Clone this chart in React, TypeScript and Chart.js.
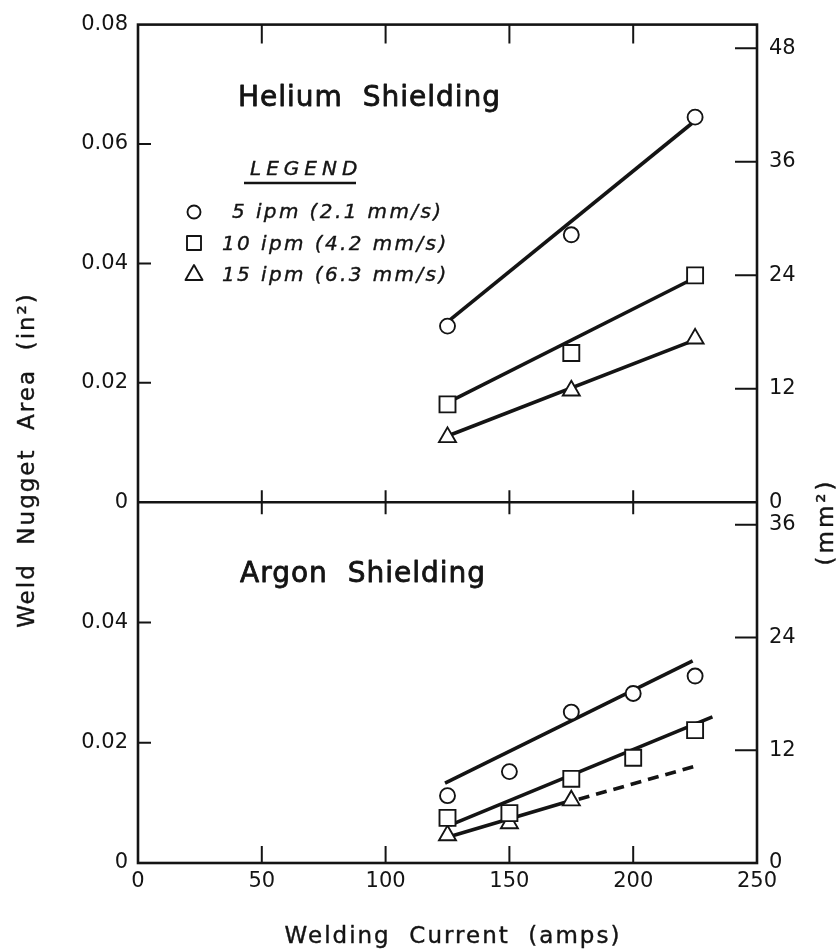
import React, { useEffect, useRef } from 'react';
import { Chart, registerables } from 'chart.js';

Chart.register(...registerables);

// ---- Data ----
// Helium shielding
const heCurrent = [125, 175, 225];
const he5ipm = [0.0295, 0.0448, 0.0645];
const he10ipm = [0.0164, 0.025, 0.038];
const he15ipm = [0.0109, 0.0187, 0.0274];

// Argon shielding
const arCurrent = [125, 150, 175, 200, 225];
const ar5ipm = [0.0112, 0.0152, 0.0251, 0.0282, 0.0311];
const ar10ipm = [0.0075, 0.0083, 0.014, 0.0175, 0.0221];
const ar15Current = [125, 150, 175];
const ar15ipm = [0.0046, 0.0066, 0.0104];

// Fitted lines (end points)
const heFit5X = [125, 225];
const heFit5Y = [0.0302, 0.0639];
const heFit10X = [125, 225];
const heFit10Y = [0.0167, 0.0376];
const heFit15X = [125, 225];
const heFit15Y = [0.0111, 0.0272];
const arFit5X = [124, 224];
const arFit5Y = [0.0133, 0.0336];
const arFit10X = [126, 232];
const arFit10Y = [0.0063, 0.0243];
const arFit15X = [126, 175];
const arFit15Y = [0.0044, 0.0104];
const arFit15DashX = [178, 225];
const arFit15DashY = [0.0106, 0.0161];

// Axes
const xTicks = [0, 50, 100, 150, 200, 250];
const heLeftTicks = [0, 0.02, 0.04, 0.06, 0.08];
const arLeftTicks = [0, 0.02, 0.04, 0.06];
const heRightTicks = [0, 12, 24, 36, 48];
const arRightTicks = [0, 12, 24, 36];

const legendTitle = 'LEGEND';
const legendLabels = ['5 ipm (2.1 mm/s)', '10 ipm (4.2 mm/s)', '15 ipm (6.3 mm/s)'];
const heTitle = 'Helium  Shielding';
const arTitle = 'Argon  Shielding';
const xTitle = 'Welding  Current  (amps)';
const yLeftTitle = 'Weld  Nugget  Area  (in²)';
const yRightTitle = '(mm²)';

const INK = '#141414';
const FONT = "'DejaVu Sans', sans-serif";

const pts = (xs: number[], ys: number[]) => xs.map((x, i) => ({ x, y: ys[i] }));

const marker = (label: string, xs: number[], ys: number[], yAxisID: string, style: string, r: number) => ({
  label,
  data: pts(xs, ys),
  xAxisID: 'x',
  yAxisID,
  showLine: false,
  pointStyle: style,
  pointRadius: r,
  pointBackgroundColor: '#ffffff',
  pointBorderColor: INK,
  pointBorderWidth: 1.9,
  order: 0,
});

const fit = (label: string, xs: number[], ys: number[], yAxisID: string, dash: number[] = []) => ({
  label,
  data: pts(xs, ys),
  xAxisID: 'x',
  yAxisID,
  showLine: true,
  borderColor: INK,
  borderWidth: 3.6,
  borderDash: dash,
  pointRadius: 0,
  order: 1,
});

const setTicks = (arr: number[]) => (s: any) => {
  s.ticks = arr.map((v) => ({ value: v }));
};

const tickFont = { family: FONT, size: 21 };

const boldText = (ctx: any, t: string, x: number, y: number, w: number) => {
  ctx.fillText(t, x, y);
  ctx.lineWidth = w;
  ctx.strokeText(t, x, y);
};

const framePlugin = {
  id: 'frame',
  beforeDatasetsDraw(chart: any) {
    const { ctx, chartArea, scales } = chart;
    const { x, yHe, yAr, yHeR, yArR } = scales;
    const L = chartArea.left;
    const R = chartArea.right;
    const T = chartArea.top;
    const B = chartArea.bottom;
    const M = yHe.bottom;
    ctx.save();
    ctx.strokeStyle = INK;
    ctx.lineWidth = 2.6;
    ctx.strokeRect(L, T, R - L, B - T);
    ctx.beginPath();
    ctx.moveTo(L, M);
    ctx.lineTo(R, M);
    ctx.stroke();
    ctx.lineWidth = 2;
    ctx.beginPath();
    xTicks.filter((v) => v > x.min && v < x.max).forEach((v) => {
      const px = x.getPixelForValue(v);
      ctx.moveTo(px, T);
      ctx.lineTo(px, T + 19);
      ctx.moveTo(px, M - 12);
      ctx.lineTo(px, M + 12);
      ctx.moveTo(px, B);
      ctx.lineTo(px, B - 17);
    });
    const leftT = (sc: any, arr: number[]) =>
      arr.filter((v) => v > sc.min && v < sc.max).forEach((v) => {
        const py = sc.getPixelForValue(v);
        ctx.moveTo(L, py);
        ctx.lineTo(L + 13, py);
      });
    const rightT = (sc: any, arr: number[]) =>
      arr.filter((v) => v > sc.min && v < sc.max).forEach((v) => {
        const py = sc.getPixelForValue(v);
        ctx.moveTo(R, py);
        ctx.lineTo(R - 22, py);
      });
    leftT(yHe, heLeftTicks);
    leftT(yAr, arLeftTicks);
    rightT(yHeR, heRightTicks);
    rightT(yArR, arRightTicks);
    ctx.stroke();
    ctx.restore();
  },
  afterDraw(chart: any) {
    const { ctx } = chart;
    ctx.save();
    ctx.fillStyle = INK;
    ctx.strokeStyle = INK;
    ctx.textBaseline = 'alphabetic';
    ctx.textAlign = 'left';
    ctx.lineJoin = 'round';

    // panel titles
    ctx.font = `28px ${FONT}`;
    (ctx as any).letterSpacing = '1px';
    boldText(ctx, heTitle, 238, 106, 0.8);
    boldText(ctx, arTitle, 240, 582, 0.8);

    // legend
    ctx.font = `italic 20px ${FONT}`;
    (ctx as any).letterSpacing = '5px';
    boldText(ctx, legendTitle, 250, 175, 0.4);
    ctx.lineWidth = 2.6;
    ctx.beginPath();
    ctx.moveTo(244, 183);
    ctx.lineTo(356, 183);
    ctx.stroke();

    ctx.font = `italic 20px ${FONT}`;
    (ctx as any).letterSpacing = '2.4px';
    const rows = [218, 250, 281];
    const textX = [232, 222, 222];
    legendLabels.forEach((t, i) => boldText(ctx, t, textX[i], rows[i], 0.4));

    ctx.lineWidth = 1.9;
    // circle
    ctx.beginPath();
    ctx.arc(194, 212, 6.5, 0, Math.PI * 2);
    ctx.stroke();
    // square
    ctx.strokeRect(187, 236, 14, 14);
    // triangle
    ctx.beginPath();
    ctx.moveTo(194, 265);
    ctx.lineTo(202.5, 280);
    ctx.lineTo(185.5, 280);
    ctx.closePath();
    ctx.stroke();

    // axis titles
    ctx.font = `23px ${FONT}`;
    (ctx as any).letterSpacing = '2px';
    ctx.textAlign = 'center';
    ctx.textBaseline = 'middle';
    boldText(ctx, xTitle, 453, 937, 0.4);

    ctx.save();
    ctx.translate(28, 460);
    ctx.rotate(-Math.PI / 2);
    boldText(ctx, yLeftTitle, 0, 0, 0.4);
    ctx.restore();

    ctx.save();
    ctx.translate(827, 522);
    ctx.rotate(-Math.PI / 2);
    (ctx as any).letterSpacing = '3px';
    boldText(ctx, yRightTitle, 0, 0, 0.4);
    ctx.restore();

    ctx.restore();
  },
};

export default function App() {
  const ref = useRef<HTMLCanvasElement | null>(null);

  useEffect(() => {
    if (!ref.current) return;
    const chart = new Chart(ref.current, {
      type: 'scatter',
      data: {
        datasets: [
          marker('He 5 ipm', heCurrent, he5ipm, 'yHe', 'circle', 7.5),
          marker('He 10 ipm', heCurrent, he10ipm, 'yHe', 'rect', 11.3),
          marker('He 15 ipm', heCurrent, he15ipm, 'yHe', 'triangle', 9.8),
          marker('Ar 5 ipm', arCurrent, ar5ipm, 'yAr', 'circle', 7.5),
          marker('Ar 10 ipm', arCurrent, ar10ipm, 'yAr', 'rect', 11.3),
          marker('Ar 15 ipm', ar15Current, ar15ipm, 'yAr', 'triangle', 9.8),
          fit('He 5 fit', heFit5X, heFit5Y, 'yHe'),
          fit('He 10 fit', heFit10X, heFit10Y, 'yHe'),
          fit('He 15 fit', heFit15X, heFit15Y, 'yHe'),
          fit('Ar 5 fit', arFit5X, arFit5Y, 'yAr'),
          fit('Ar 10 fit', arFit10X, arFit10Y, 'yAr'),
          fit('Ar 15 fit', arFit15X, arFit15Y, 'yAr'),
          fit('Ar 15 fit (extrap.)', arFit15DashX, arFit15DashY, 'yAr', [11, 7]),
        ] as any,
      },
      options: {
        animation: false,
        responsive: false,
        events: [],
        layout: { padding: { top: 24, left: 0, right: 0, bottom: 0 } },
        plugins: { legend: { display: false }, tooltip: { enabled: false }, title: { display: false } },
        scales: {
          x: {
            type: 'linear',
            position: 'bottom',
            min: 0,
            max: 250,
            afterBuildTicks: setTicks(xTicks),
            afterFit: (s: any) => {
              s.height = 87;
            },
            ticks: { font: tickFont, color: INK, padding: 6, maxRotation: 0, autoSkip: false },
            grid: { display: false, drawTicks: false },
            border: { display: false },
          },
          yHe: {
            type: 'linear',
            position: 'left',
            stack: 'left',
            stackWeight: 478,
            weight: 1,
            min: 0,
            max: 0.08,
            afterBuildTicks: setTicks(heLeftTicks),
            afterFit: (s: any) => {
              s.width = 138;
            },
            ticks: {
              font: tickFont,
              color: INK,
              padding: 10,
              callback: (v: any) => (v === 0 ? '0' : Number(v).toFixed(2)),
            },
            grid: { display: false, drawTicks: false },
            border: { display: false },
          },
          yAr: {
            type: 'linear',
            position: 'left',
            stack: 'left',
            stackWeight: 361,
            weight: 0,
            min: 0,
            max: 0.06,
            afterBuildTicks: setTicks(arLeftTicks),
            afterFit: (s: any) => {
              s.width = 138;
            },
            ticks: {
              font: tickFont,
              color: INK,
              padding: 10,
              callback: (v: any) => (v === 0 ? '0' : v >= 0.05 ? '' : Number(v).toFixed(2)),
            },
            grid: { display: false, drawTicks: false },
            border: { display: false },
          },
          yHeR: {
            type: 'linear',
            position: 'right',
            stack: 'right',
            stackWeight: 478,
            weight: 0,
            min: 0,
            max: 50.5,
            afterBuildTicks: setTicks(heRightTicks),
            afterFit: (s: any) => {
              s.width = 80;
            },
            ticks: { font: tickFont, color: INK, padding: 12, callback: (v: any) => String(v) },
            grid: { display: false, drawTicks: false },
            border: { display: false },
          },
          yArR: {
            type: 'linear',
            position: 'right',
            stack: 'right',
            stackWeight: 361,
            weight: 1,
            min: 0,
            max: 38.4,
            afterBuildTicks: setTicks(arRightTicks),
            afterFit: (s: any) => {
              s.width = 80;
            },
            ticks: { font: tickFont, color: INK, padding: 12, callback: (v: any) => String(v) },
            grid: { display: false, drawTicks: false },
            border: { display: false },
          },
        },
      } as any,
      plugins: [framePlugin],
    });
    return () => chart.destroy();
  }, []);

  return (
    <div style={{ position: 'absolute', left: 0, top: 0, width: 837, height: 950, background: '#ffffff' }}>
      <canvas ref={ref} width={837} height={950} style={{ display: 'block', width: 837, height: 950 }} />
    </div>
  );
}
